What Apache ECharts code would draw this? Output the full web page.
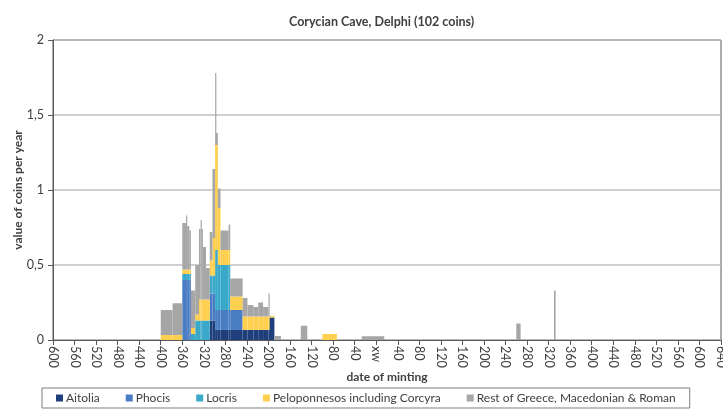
<!DOCTYPE html>
<html>
<head>
<meta charset="utf-8">
<script src="https://cdn.jsdelivr.net/npm/echarts@6/dist/echarts.min.js"></script>
<style>
  html, body { margin: 0; padding: 0; background: #fff; }
  #main { width: 723px; height: 412px; }
</style>
</head>
<body>
<div id="main"></div>
<script>
// * periods (years, negative = BC), one entry per block
var binStart = [-400, -378, -360, -353, -351, -347, -344, -336, -329, -326, -324, -322, -316,
  -309, -304, -299, -298, -294, -289, -274, -271, -248, -239, -228, -219, -210, -200, -199,
  -189, -140, -100, -27, 260, 330]
var binEnd = [-378, -360, -353, -351, -347, -344, -336, -329, -326, -324, -322, -316, -309,
  -304, -299, -298, -294, -289, -274, -271, -248, -239, -228, -219, -210, -200, -199, -189,
  -177, -128, -73, 15, 268, 333]

// value of coins per year for each region (stacked in this order)
var aitolia = [0, 0, 0, 0, 0, 0, 0, 0, 0, 0, 0, 0, 0,
  0.13, 0.13, 0.067, 0.067, 0.067, 0.067, 0.067, 0.067, 0.067, 0.067, 0.067, 0.067, 0.067, 0.067, 0.15,
  0, 0, 0, 0, 0, 0]
var phocis = [0, 0, 0.4, 0.4, 0.4, 0.4, 0, 0, 0, 0, 0, 0, 0,
  0.18, 0.18, 0.133, 0.133, 0.133, 0.133, 0.133, 0.133, 0, 0, 0, 0, 0, 0, 0,
  0, 0, 0, 0, 0, 0]
var locris = [0, 0, 0.04, 0.04, 0.04, 0.04, 0.04, 0.13, 0.13, 0.13, 0.13, 0.13, 0.13,
  0.12, 0.12, 0.4, 0.4, 0.3, 0.3, 0.3, 0, 0, 0, 0, 0, 0, 0, 0,
  0, 0, 0, 0, 0, 0]
var peloponnesos = [0.033, 0.033, 0.03, 0.03, 0.03, 0.03, 0.04, 0.04, 0.14, 0.14, 0.14, 0.14, 0.14,
  0.1, 0.25, 0.7, 0.7, 0.38, 0.1, 0.1, 0.09, 0.09, 0.09, 0.09, 0.09, 0.09, 0.09, 0.01,
  0, 0, 0.04, 0, 0, 0]
var rest = [0.167, 0.212, 0.31, 0.36, 0.29, 0.26, 0.25, 0.33, 0.47, 0.53, 0.47, 0.35, 0.21,
  0.19, 0.46, 0.48, 0.08, 0.13, 0.13, 0.17, 0.12, 0.123, 0.076, 0.063, 0.093, 0.063, 0.153, 0,
  0.027, 0.095, 0, 0.025, 0.11, 0.33]

var seriesNames = ['Aitolia', 'Phocis', 'Locris', 'Peloponnesos including Corcyra', 'Rest of Greece, Macedonian & Roman']
var seriesValues = [aitolia, phocis, locris, peloponnesos, rest]
var colors = ['#1f3f7c', '#4a7cc4', '#3aa9c9', '#ffd04f', '#a6a6a6']

var chartDom = document.getElementById('main')
var myChart = echarts.init(chartDom)

// build [start, end, bottom, top] rects, stacked per block
var base = binStart.map(function () { return 0 })
var series = seriesValues.map(function (vals, k) {
  var data = []
  vals.forEach(function (v, i) {
    if (v > 0) {
      data.push([binStart[i], binEnd[i], base[i], base[i] + v])
      base[i] += v
    }
  })
  return {
    name: seriesNames[k],
    type: 'custom',
    itemStyle: { color: colors[k] },
    encode: { x: [0, 1], y: [2, 3] },
    renderItem: function (params, api) {
      var p0 = api.coord([api.value(0), api.value(3)])
      var p1 = api.coord([api.value(1), api.value(2)])
      return {
        type: 'rect',
        shape: { x: p0[0], y: p0[1], width: Math.max(p1[0] - p0[0], 1.2), height: p1[1] - p0[1] },
        style: { fill: api.visual('color') }
      }
    },
    data: data
  }
})

var font = 'Lato, "Liberation Sans", sans-serif'
var option = {
  animation: false,
  color: colors,
  textStyle: { fontFamily: font },
  title: {
    text: 'Corycian Cave, Delphi (102 coins)',
    left: 284,
    top: 10,
    textStyle: { fontFamily: font, fontSize: 12.5, fontWeight: 'bold', color: '#404040' }
  },
  legend: {
    left: 42,
    top: 388,
    icon: 'rect',
    itemWidth: 7,
    itemHeight: 7,
    itemGap: 26,
    padding: [4, 14, 4, 14],
    borderColor: '#7f7f7f',
    borderWidth: 1,
    textStyle: { fontFamily: font, fontSize: 12, color: '#404040', padding: [0, 0, 0, -2] }
  },
  grid: {
    left: 53,
    right: 2,
    top: 40,
    bottom: 72,
    containLabel: false,
    outerBoundsMode: 'none',
    show: true,
    borderColor: '#595959',
    borderWidth: 1
  },
  xAxis: {
    type: 'value',
    min: -600,
    max: 640,
    interval: 40,
    name: 'date of minting',
    nameLocation: 'middle',
    nameGap: 31,
    nameMoveOverlap: false,
    nameTextStyle: { fontFamily: font, fontSize: 12, fontWeight: 'bold', color: '#404040' },
    axisLine: { onZero: false, lineStyle: { color: '#595959' } },
    axisTick: { show: true, length: 5, lineStyle: { color: '#595959' } },
    splitLine: { show: false },
    axisLabel: {
      rotate: -90,
      margin: 6,
      fontSize: 12.5,
      color: '#404040',
      formatter: function (v) { return v === 0 ? 'xw' : String(Math.abs(v)) }
    }
  },
  yAxis: {
    type: 'value',
    min: 0,
    max: 2,
    interval: 0.5,
    name: 'value of coins per year',
    nameLocation: 'middle',
    nameGap: 29,
    nameMoveOverlap: false,
    nameTextStyle: { fontFamily: font, fontSize: 12, fontWeight: 'bold', color: '#404040' },
    axisLine: { show: true, onZero: false, lineStyle: { color: '#595959' } },
    axisTick: { show: true, length: 5, lineStyle: { color: '#595959' } },
    splitLine: { lineStyle: { color: '#bfbfbf', width: 1.5 } },
    axisLabel: {
      fontSize: 12.5,
      color: '#404040',
      margin: 9,
      formatter: function (v) { return String(v).replace('.', ',') }
    }
  },
  series: series
}
option && myChart.setOption(option)
</script>
</body>
</html>
